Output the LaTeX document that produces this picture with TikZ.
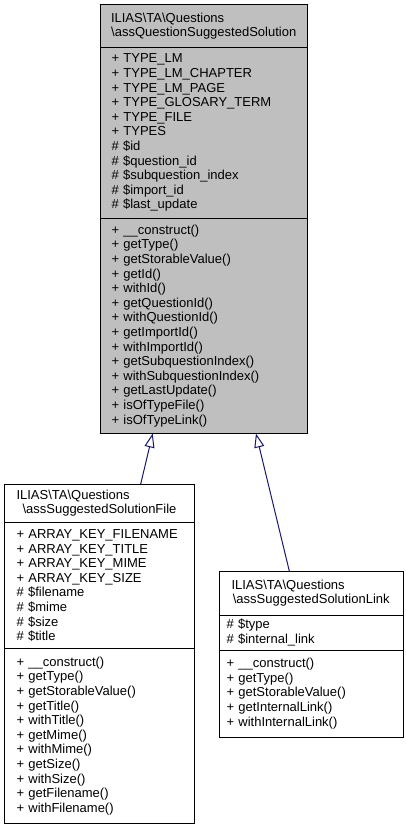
\documentclass[tikz,border=0pt]{standalone}
\usepackage{fontspec}
\setmainfont{Liberation Sans}
\usetikzlibrary{arrows.meta,calc}
\definecolor{grey75}{HTML}{BFBFBF}
\definecolor{midnightblue}{HTML}{191970}
\begin{document}
\begin{tikzpicture}[x=1pt,y=-1pt,
	field/.style={draw=black,line width=1pt,anchor=north west,align=left,
		inner ysep=0pt,outer sep=0pt,font=\fontsize{13}{14.6}\selectfont},
	inherit/.style={draw=midnightblue,line width=1pt,
		-{Triangle[open,length=14pt,width=10pt]}}]
	\useasboundingbox (0,0) rectangle (405,829);
	% base class
	\node[field,fill=grey75,minimum width=207.5pt,minimum height=42.5pt,inner xsep=11pt,text width=185.5pt] (sol) at (100,5)
		{ILIAS\textbackslash TA\textbackslash Questions\\\makebox[\hsize][c]{\textbackslash assQuestionSuggestedSolution}};
	\node[field,fill=grey75,minimum width=207.5pt,minimum height=170.5pt,inner xsep=11.5pt,text width=184.5pt] (solattr) at (sol.south west)
		{+ TYPE\_LM\\+ TYPE\_LM\_CHAPTER\\+ TYPE\_LM\_PAGE\\+ TYPE\_GLOSARY\_TERM\\+ TYPE\_FILE\\+ TYPES\\\# \$id\\\# \$question\_id\\\# \$subquestion\_index\\\# \$import\_id\\\# \$last\_update};
	\node[field,fill=grey75,minimum width=207.5pt,minimum height=215.5pt,inner xsep=11.5pt,text width=184.5pt] (solops) at (solattr.south west)
		{+ \_\_construct()\\+ getType()\\+ getStorableValue()\\+ getId()\\+ withId()\\+ getQuestionId()\\+ withQuestionId()\\+ getImportId()\\+ withImportId()\\+ getSubquestionIndex()\\+ withSubquestionIndex()\\+ getLastUpdate()\\+ isOfTypeFile()\\+ isOfTypeLink()};
	% file solution
	\node[field,fill=white,minimum width=190pt,minimum height=38.5pt,inner xsep=12pt,text width=166pt] (file) at (4.5,484)
		{ILIAS\textbackslash TA\textbackslash Questions\\\makebox[\hsize][c]{\textbackslash assSuggestedSolutionFile}};
	\node[field,fill=white,minimum width=190pt,minimum height=126pt,inner xsep=12pt,text width=166pt] (fileattr) at (file.south west)
		{+ ARRAY\_KEY\_FILENAME\\+ ARRAY\_KEY\_TITLE\\+ ARRAY\_KEY\_MIME\\+ ARRAY\_KEY\_SIZE\\\# \$filename\\\# \$mime\\\# \$size\\\# \$title};
	\node[field,fill=white,minimum width=190pt,minimum height=175pt,inner xsep=12pt,text width=166pt] (fileops) at (fileattr.south west)
		{+ \_\_construct()\\+ getType()\\+ getStorableValue()\\+ getTitle()\\+ withTitle()\\+ getMime()\\+ withMime()\\+ getSize()\\+ withSize()\\+ getFilename()\\+ withFilename()};
	% link solution
	\node[field,fill=white,minimum width=184.5pt,minimum height=44pt,inner xsep=12.5pt,text width=159.5pt] (link) at (219,571)
		{ILIAS\textbackslash TA\textbackslash Questions\\\makebox[\hsize][c]{\textbackslash assSuggestedSolutionLink}};
	\node[field,fill=white,minimum width=184.5pt,minimum height=35pt,inner xsep=7.5pt,text width=169.5pt] (linkattr) at (link.south west)
		{\# \$type\\\# \$internal\_link};
	\node[field,fill=white,minimum width=184.5pt,minimum height=87pt,inner xsep=7.5pt,text width=169.5pt] (linkops) at (linkattr.south west)
		{+ \_\_construct()\\+ getType()\\+ getStorableValue()\\+ getInternalLink()\\+ withInternalLink()};
	% generalisation
	\draw[inherit] ($(file.north west)+(136.2,0)$) -- ($(solops.south west)+(52.7,0)$);
	\draw[inherit] ($(link.north west)+(70.3,0)$) -- ($(solops.south west)+(156,0)$);
\end{tikzpicture}
\end{document}
